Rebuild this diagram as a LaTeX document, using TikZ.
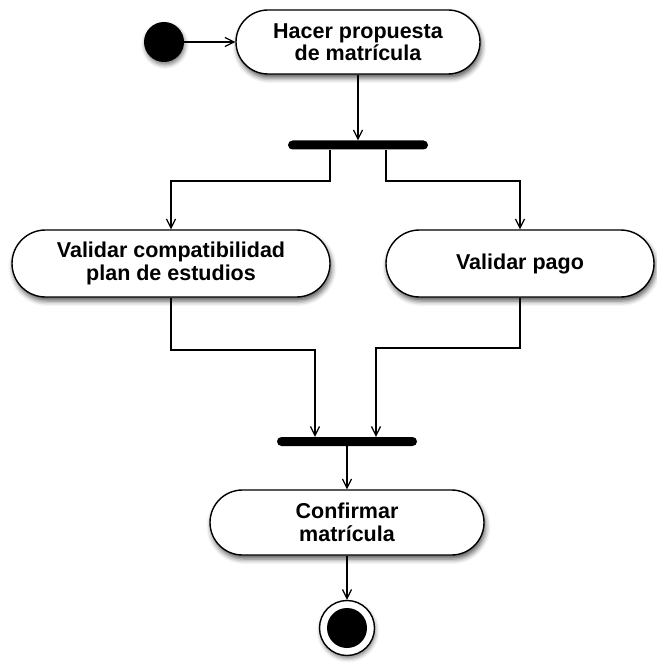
\documentclass[tikz,border=0pt]{standalone}
\usepackage{fontspec}
\setmainfont{Liberation Sans}
\usetikzlibrary{arrows.meta,shadows.blur,calc}
\tikzset{
  act/.style={draw=black, line width=1.4pt, fill=white, rectangle, align=center,
    font=\fontsize{21.5}{22.5}\selectfont\bfseries, inner sep=0pt,
    blur shadow={shadow xshift=1.5pt, shadow yshift=-4pt, shadow blur radius=5pt, shadow opacity=65}},
  bar/.style={fill=black, rectangle, minimum width=140pt, minimum height=9pt, inner sep=0pt, rounded corners=4.5pt},
  arr/.style={line width=1.2pt, -{Straight Barb[length=9pt,width=9pt,line width=1.2pt]}},
  ln/.style={line width=1.2pt}
}
\begin{document}
\begin{tikzpicture}[x=1pt,y=-1pt]
\useasboundingbox (0,0) rectangle (656,663);
% start
\node[circle, fill=black, minimum size=40pt, inner sep=0pt,
  blur shadow={shadow xshift=1pt, shadow yshift=-3pt, shadow blur radius=4pt, shadow opacity=50}] (start) at (164,42) {};
% activities
\node[act, minimum width=244pt, minimum height=64pt, rounded corners=32pt] (n1) at (358,42) {Hacer propuesta\\de matrícula};
\node[bar] (bar1) at (358,145) {};
\node[act, minimum width=318pt, minimum height=67pt, rounded corners=33.5pt] (n2) at (171,263.5) {Validar compatibilidad\\plan de estudios};
\node[act, minimum width=268pt, minimum height=67pt, rounded corners=33.5pt] (n3) at (520,263.5) {Validar pago};
\node[bar] (bar2) at (347,441.5) {};
\node[act, minimum width=274pt, minimum height=65pt, rounded corners=32.5pt] (n4) at (347,522.5) {Confirmar\\matrícula};
% end
\node[circle, draw=black, line width=1.4pt, fill=white, minimum size=55pt, inner sep=0pt,
  blur shadow={shadow xshift=1pt, shadow yshift=-3pt, shadow blur radius=4pt, shadow opacity=50}] (endo) at (347,628) {};
\node[circle, fill=black, minimum size=40pt, inner sep=0pt] (endi) at (endo.center) {};
% bend points
\coordinate (f1) at (330,181);
\coordinate (f2) at (386,181);
\coordinate (j1) at (171,350);
\coordinate (j2) at (520,348);
% connectors
\draw[arr] (start.east) -- (n1.west);
\draw[arr] (n1.south) -- (bar1.north);
\draw[arr] ([xshift=-28pt]bar1.south) -- (f1) -| (n2.north);
\draw[arr] ([xshift=28pt]bar1.south) -- (f2) -| (n3.north);
\draw[arr] (n2.south) -- (j1) -| ([xshift=-32pt]bar2.north);
\draw[arr] (n3.south) -- (j2) -| ([xshift=29pt]bar2.north);
\draw[arr] (bar2.south) -- (n4.north);
\draw[arr] (n4.south) -- (endo.north);
\end{tikzpicture}
\end{document}
